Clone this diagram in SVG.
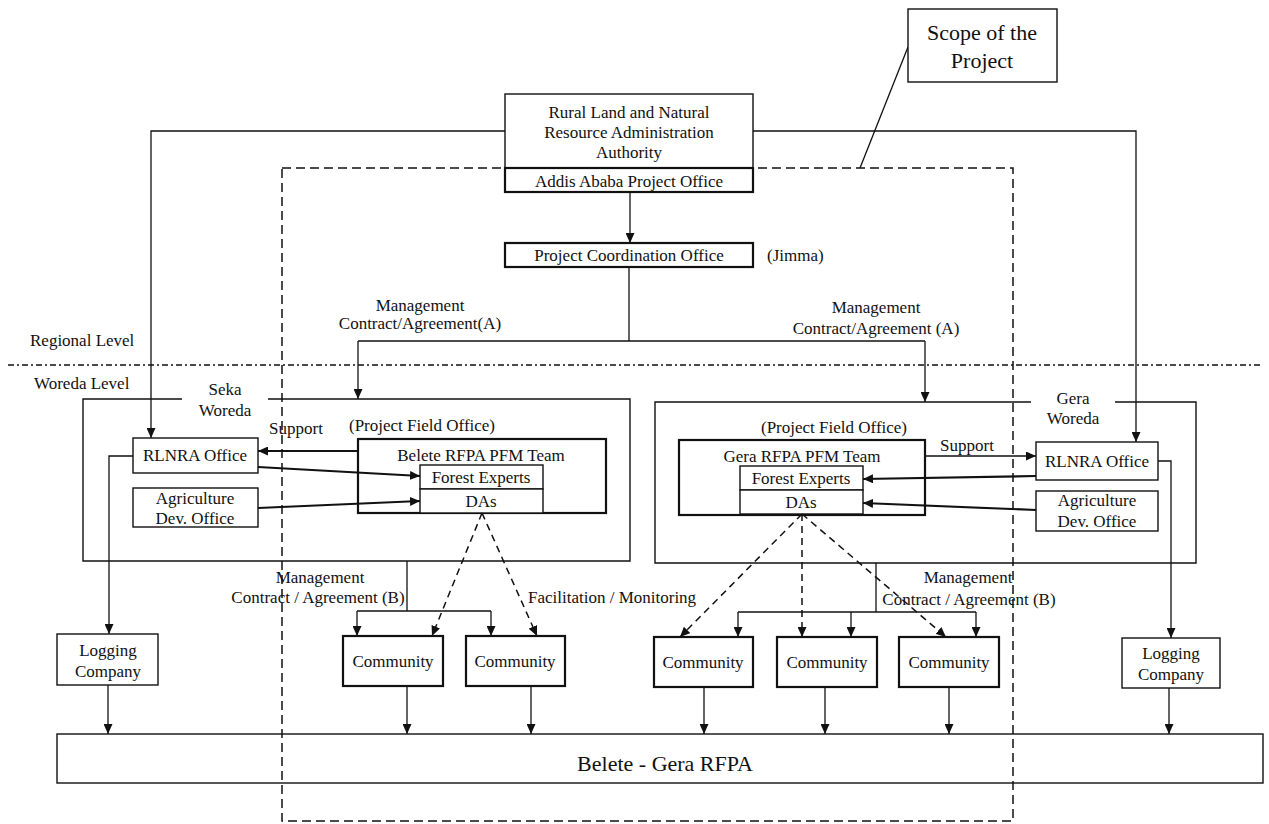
<svg xmlns="http://www.w3.org/2000/svg" width="1269" height="824" viewBox="0 0 1269 824">
  <style>
    text { font-family: "Liberation Serif", "Times New Roman", serif; font-size: 17px; fill: #111; }
    .c { text-anchor: middle; }
    .box { fill: #fff; stroke: #111; stroke-width: 1.4; }
    .bold { fill: #fff; stroke: #111; stroke-width: 2.2; }
    .open { fill: none; stroke: #111; stroke-width: 1.4; }
    .ln { fill: none; stroke: #111; stroke-width: 1.3; }
    .thk { fill: none; stroke: #111; stroke-width: 2.2; }
    .dash { fill: none; stroke: #111; stroke-width: 1.5; stroke-dasharray: 7 5; }
    .scope { fill: none; stroke: #111; stroke-width: 1.5; stroke-dasharray: 9 5; }
    .level { fill: none; stroke: #111; stroke-width: 1.3; stroke-dasharray: 6 3 2 3; }
  </style>
  <defs>
    <marker id="ah" markerWidth="10" markerHeight="9" refX="10" refY="4.5" orient="auto" markerUnits="userSpaceOnUse">
      <path d="M0,0 L10,4.5 L0,9 z" fill="#111"/>
    </marker>
  </defs>
  <rect width="1269" height="824" fill="#fff"/>

  <!-- level separator -->
  <g id="levels">
    <line class="level" x1="8" y1="365" x2="1262" y2="365"/>
    <text x="30" y="346">Regional Level</text>
    <text x="34" y="389">Woreda Level</text>
  </g>

  <!-- woreda containers -->
  <g id="seka-woreda">
    <path class="open" d="M182,399 H83 V561 H630 V399 H268"/>
    <text class="c" x="225" y="395">Seka</text>
    <text class="c" x="225" y="416">Woreda</text>
  </g>
  <g id="gera-woreda">
    <path class="open" d="M1031,402 H655 V563 H1196 V402 H1115"/>
    <text class="c" x="1073" y="404">Gera</text>
    <text class="c" x="1073" y="424">Woreda</text>
  </g>

  <g id="authority">
    <rect class="box" x="505" y="94" width="248" height="98"/>
    <rect class="bold" x="505" y="168" width="248" height="24"/>
    <text class="c" x="629" y="118">Rural Land and Natural</text>
    <text class="c" x="629" y="138">Resource Administration</text>
    <text class="c" x="629" y="158">Authority</text>
    <text class="c" x="629" y="187">Addis Ababa Project Office</text>
  </g>

  <g id="coordination-office">
    <rect class="bold" x="505" y="243" width="248" height="24"/>
    <text class="c" x="629" y="261">Project Coordination Office</text>
  </g>

  <g id="seka-rlnra">
    <rect class="box" x="133" y="438" width="125" height="35"/>
    <text class="c" x="195" y="461">RLNRA Office</text>
  </g>
  <g id="seka-agri">
    <rect class="box" x="133" y="488" width="125" height="39"/>
    <text class="c" x="195" y="504">Agriculture</text>
    <text class="c" x="195" y="524">Dev. Office</text>
  </g>
  <g id="belete-team">
    <rect class="bold" x="358" y="439" width="248" height="74"/>
    <text class="c" x="481" y="461">Belete RFPA PFM Team</text>
    <rect class="box" x="420" y="465" width="123" height="24"/>
    <rect class="box" x="420" y="489" width="123" height="24"/>
    <text class="c" x="481" y="483">Forest Experts</text>
    <text class="c" x="481" y="507">DAs</text>
  </g>

  <g id="gera-team">
    <rect class="bold" x="679" y="440" width="246" height="75"/>
    <text class="c" x="802" y="462">Gera RFPA PFM Team</text>
    <rect class="box" x="740" y="466" width="123" height="24"/>
    <rect class="box" x="740" y="490" width="123" height="24"/>
    <text class="c" x="801" y="484">Forest Experts</text>
    <text class="c" x="801" y="508">DAs</text>
  </g>
  <g id="gera-rlnra">
    <rect class="box" x="1036" y="442" width="122" height="38"/>
    <text class="c" x="1097" y="467">RLNRA Office</text>
  </g>
  <g id="gera-agri">
    <rect class="box" x="1036" y="491" width="122" height="40"/>
    <text class="c" x="1097" y="506">Agriculture</text>
    <text class="c" x="1097" y="527">Dev. Office</text>
  </g>

  <g id="logging-seka">
    <rect class="box" x="57" y="634" width="101" height="51"/>
    <text class="c" x="108" y="656">Logging</text>
    <text class="c" x="108" y="677">Company</text>
  </g>
  <g id="logging-gera">
    <rect class="box" x="1122" y="638" width="98" height="50"/>
    <text class="c" x="1171" y="659">Logging</text>
    <text class="c" x="1171" y="680">Company</text>
  </g>

  <g id="community-1"><rect class="bold" x="343" y="636" width="100" height="50"/><text class="c" x="393" y="667">Community</text></g>
  <g id="community-2"><rect class="bold" x="466" y="636" width="99" height="50"/><text class="c" x="515" y="667">Community</text></g>
  <g id="community-3"><rect class="bold" x="654" y="637" width="99" height="50"/><text class="c" x="703" y="668">Community</text></g>
  <g id="community-4"><rect class="bold" x="777" y="637" width="100" height="50"/><text class="c" x="827" y="668">Community</text></g>
  <g id="community-5"><rect class="bold" x="899" y="637" width="100" height="50"/><text class="c" x="949" y="668">Community</text></g>

  <g id="rfpa">
    <rect class="box" x="57" y="734" width="1206" height="49"/>
    <text class="c" x="665" y="771" style="font-size:22px">Belete - Gera RFPA</text>
  </g>

  <!-- connectors, drawn over the boxes so arrowheads stay visible -->
  <g id="connectors">
    <!-- authority to woreda RLNRA offices -->
    <polyline class="ln" points="505,131 151,131 151,438" marker-end="url(#ah)"/>
    <polyline class="ln" points="753,131 1136,131 1136,442" marker-end="url(#ah)"/>
    <!-- authority to coordination office -->
    <line class="ln" x1="630" y1="192" x2="630" y2="243" marker-end="url(#ah)"/>
    <!-- management contract (A) -->
    <line class="ln" x1="629" y1="267" x2="629" y2="341"/>
    <polyline class="ln" points="358,341 925,341"/>
    <line class="ln" x1="358" y1="341" x2="358" y2="399" marker-end="url(#ah)"/>
    <line class="ln" x1="925" y1="341" x2="925" y2="402" marker-end="url(#ah)"/>

    <!-- Seka woreda internal -->
    <line class="thk" x1="358" y1="451" x2="258" y2="451" marker-end="url(#ah)"/>
    <line class="thk" x1="258" y1="467" x2="420" y2="476" marker-end="url(#ah)"/>
    <line class="thk" x1="258" y1="508" x2="420" y2="501" marker-end="url(#ah)"/>
    <!-- Gera woreda internal -->
    <line class="ln" x1="925" y1="456" x2="1036" y2="456" marker-end="url(#ah)"/>
    <line class="thk" x1="1036" y1="476" x2="863" y2="479" marker-end="url(#ah)"/>
    <line class="thk" x1="1036" y1="510" x2="863" y2="503" marker-end="url(#ah)"/>

    <!-- RLNRA offices to logging companies -->
    <polyline class="ln" points="133,456 109,456 109,634" marker-end="url(#ah)"/>
    <polyline class="ln" points="1158,461 1171,461 1171,638" marker-end="url(#ah)"/>

    <!-- management contract (B), Seka -->
    <line class="ln" x1="407" y1="561" x2="407" y2="611"/>
    <line class="ln" x1="357" y1="611" x2="491" y2="611"/>
    <line class="ln" x1="357" y1="611" x2="357" y2="636" marker-end="url(#ah)"/>
    <line class="ln" x1="491" y1="611" x2="491" y2="636" marker-end="url(#ah)"/>
    <!-- management contract (B), Gera -->
    <line class="ln" x1="876" y1="563" x2="876" y2="612"/>
    <line class="ln" x1="738" y1="612" x2="976" y2="612"/>
    <line class="ln" x1="738" y1="612" x2="738" y2="637" marker-end="url(#ah)"/>
    <line class="ln" x1="851" y1="612" x2="851" y2="637" marker-end="url(#ah)"/>
    <line class="ln" x1="976" y1="612" x2="976" y2="637" marker-end="url(#ah)"/>

    <!-- facilitation / monitoring -->
    <line class="dash" x1="482" y1="513" x2="432" y2="636" marker-end="url(#ah)"/>
    <line class="dash" x1="482" y1="513" x2="537" y2="636" marker-end="url(#ah)"/>
    <line class="dash" x1="802" y1="514" x2="680" y2="637" marker-end="url(#ah)"/>
    <line class="dash" x1="802" y1="514" x2="802" y2="637" marker-end="url(#ah)"/>
    <line class="dash" x1="802" y1="514" x2="946" y2="637" marker-end="url(#ah)"/>

    <!-- into the RFPA -->
    <line class="ln" x1="108" y1="685" x2="108" y2="734" marker-end="url(#ah)"/>
    <line class="ln" x1="407" y1="686" x2="407" y2="734" marker-end="url(#ah)"/>
    <line class="ln" x1="531" y1="686" x2="531" y2="734" marker-end="url(#ah)"/>
    <line class="ln" x1="704" y1="687" x2="704" y2="734" marker-end="url(#ah)"/>
    <line class="ln" x1="825" y1="687" x2="825" y2="734" marker-end="url(#ah)"/>
    <line class="ln" x1="949" y1="687" x2="949" y2="734" marker-end="url(#ah)"/>
    <line class="ln" x1="1169" y1="688" x2="1169" y2="734" marker-end="url(#ah)"/>
  </g>

  <!-- edge labels -->
  <g id="labels">
    <text class="c" x="420" y="311">Management</text>
    <text class="c" x="420" y="329">Contract/Agreement(A)</text>
    <text class="c" x="876" y="313">Management</text>
    <text class="c" x="876" y="334">Contract/Agreement (A)</text>
    <text class="c" x="296" y="434">Support</text>
    <text class="c" x="967" y="451">Support</text>
    <text class="c" x="320" y="583">Management</text>
    <text class="c" x="318" y="603">Contract / Agreement (B)</text>
    <text x="528" y="603">Facilitation / Monitoring</text>
    <text class="c" x="968" y="583">Management</text>
    <text class="c" x="969" y="605">Contract / Agreement (B)</text>
    <text x="767" y="261">(Jimma)</text>
    <text class="c" x="422" y="431">(Project Field Office)</text>
    <text class="c" x="834" y="433">(Project Field Office)</text>
  </g>

  <!-- project scope boundary and its callout -->
  <g id="scope">
    <rect class="scope" x="282" y="168" width="731" height="653"/>
    <line class="ln" x1="908" y1="47" x2="860" y2="168"/>
    <rect class="box" x="908" y="9" width="149" height="73"/>
    <text class="c" x="982" y="40" style="font-size:22px">Scope of the</text>
    <text class="c" x="982" y="68" style="font-size:22px">Project</text>
  </g>
</svg>
